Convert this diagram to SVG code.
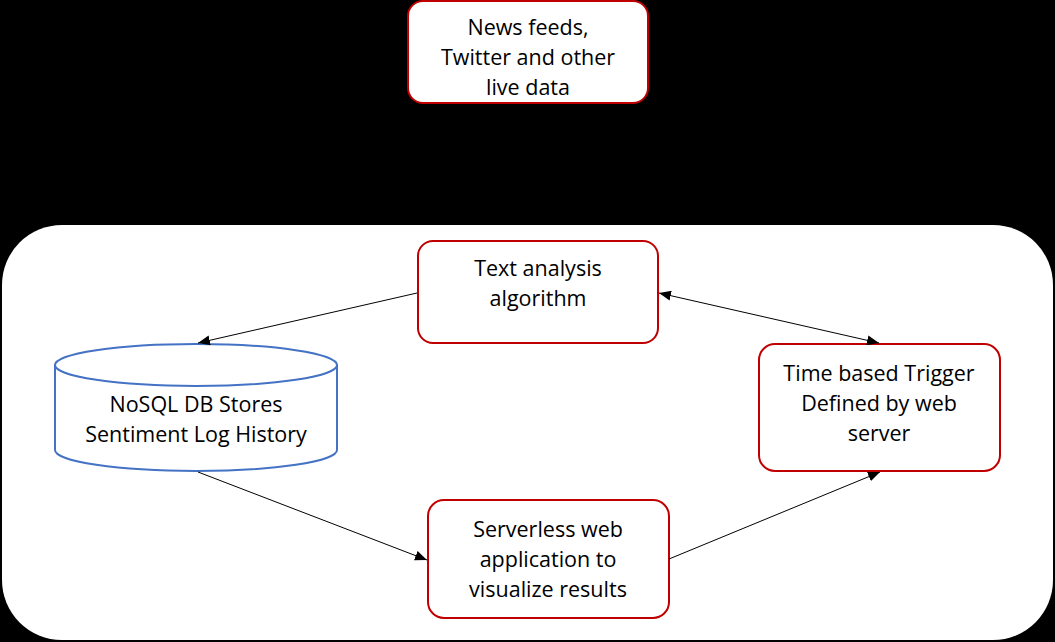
<svg xmlns="http://www.w3.org/2000/svg" width="1055" height="642" viewBox="0 0 1055 642">
<style>
.box{fill:#fff;stroke:#C00000;stroke-width:2}
.db{fill:#fff;stroke:#4472C4;stroke-width:2}
.t{font-family:"Open Sans","Liberation Sans",sans-serif;font-size:21.5px;fill:#000;text-anchor:middle}
.c{stroke:#000;stroke-width:1;fill:none}
</style>
<defs>
<marker id="ah" viewBox="0 0 12 10" refX="12" refY="5" markerWidth="12" markerHeight="10" markerUnits="userSpaceOnUse" orient="auto-start-reverse">
<path d="M0,0 L12,5 L0,10 Z" fill="#000"/>
</marker>
</defs>
<rect x="0" y="0" width="1055" height="642" fill="#000"/>
<rect id="container" x="2" y="225" width="1051" height="415" rx="60" ry="60" fill="#fff"/>
<g id="news">
<rect class="box" x="408" y="1" width="240" height="102" rx="15"/>
<text class="t" x="528" y="35">News feeds,</text>
<text class="t" x="528" y="65">Twitter and other</text>
<text class="t" x="528" y="95">live data</text>
</g>
<g id="text-analysis">
<rect class="box" x="418" y="241" width="240" height="102" rx="15"/>
<text class="t" x="538" y="276">Text analysis</text>
<text class="t" x="538" y="306">algorithm</text>
</g>
<g id="trigger">
<rect class="box" x="759" y="344" width="241" height="127" rx="16"/>
<text class="t" x="879" y="381">Time based Trigger</text>
<text class="t" x="879" y="411">Defined by web</text>
<text class="t" x="879" y="441">server</text>
</g>
<g id="serverless">
<rect class="box" x="428" y="500" width="241" height="118" rx="16"/>
<text class="t" x="548" y="537">Serverless web</text>
<text class="t" x="548" y="567">application to</text>
<text class="t" x="548" y="597">visualize results</text>
</g>
<g id="nosql">
<path class="db" d="M55,365 L55,450 A141,21 0 0 0 337,450 L337,365 A141,21 0 0 0 55,365 Z"/>
<path class="db" d="M55,365 A141,21 0 0 0 337,365" fill="none"/>
<text class="t" x="196" y="412">NoSQL DB Stores</text>
<text class="t" x="196" y="442">Sentiment Log History</text>
</g>
<g id="connectors">
<line class="c" x1="417" y1="293" x2="198" y2="343" marker-end="url(#ah)"/>
<line class="c" x1="659" y1="293" x2="879" y2="343" marker-start="url(#ah)" marker-end="url(#ah)"/>
<line class="c" x1="198" y1="472" x2="427" y2="560" marker-end="url(#ah)"/>
<line class="c" x1="669" y1="559" x2="880" y2="472" marker-end="url(#ah)"/>
</g>
</svg>
